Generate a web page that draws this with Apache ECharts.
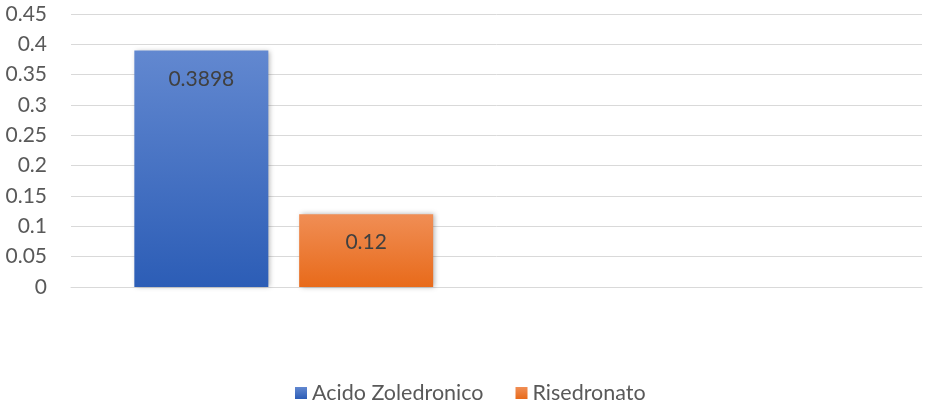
<!DOCTYPE html>
<html>
<head>
<meta charset="utf-8">
<style>
  html, body { margin: 0; padding: 0; background: #ffffff; }
  #chart { width: 930px; height: 407px; }
</style>
<script src="https://cdn.jsdelivr.net/npm/echarts@6/dist/echarts.min.js"></script>
</head>
<body>
<div id="chart"></div>
<script>
// Category slots on the x axis (the second one is left empty)
const categories = ['1', '2'];
// Series values
const acidoZoledronico = [0.3898, null];
const risedronato = [0.12, null];
// Y axis ticks
const yTicks = [0, 0.05, 0.1, 0.15, 0.2, 0.25, 0.3, 0.35, 0.4, 0.45];

const FONT = 'Lato, "Open Sans", sans-serif';

function grad(top, bottom) {
  return new echarts.graphic.LinearGradient(0, 0, 0, 1, [
    { offset: 0, color: top },
    { offset: 1, color: bottom }
  ]);
}

function labelStyle() {
  return {
    show: true,
    position: 'insideTop',
    distance: 18,
    color: '#404040',
    fontFamily: FONT,
    fontSize: 21,
    formatter: p => String(p.value)
  };
}

const chart = echarts.init(document.getElementById('chart'));
chart.setOption({
  animation: false,
  backgroundColor: '#ffffff',
  grid: { left: 71, right: 8, top: 14, bottom: 120, containLabel: false },
  legend: {
    top: 377,
    left: 290,
    itemWidth: 12,
    itemHeight: 12,
    itemGap: 32,
    icon: 'rect',
    textStyle: { color: '#595959', fontFamily: FONT, fontSize: 21.5 },
    data: ['Acido Zoledronico', 'Risedronato']
  },
  xAxis: {
    type: 'category',
    data: categories,
    axisLine: { show: true, lineStyle: { color: '#d9d9d9', width: 1 } },
    axisTick: { show: false },
    axisLabel: { show: false },
    splitLine: { show: false }
  },
  yAxis: {
    type: 'value',
    min: yTicks[0],
    max: yTicks[yTicks.length - 1],
    interval: 0.05,
    axisLine: { show: false },
    axisTick: { show: false },
    axisLabel: {
      color: '#595959',
      fontFamily: FONT,
      fontSize: 21,
      margin: 24,
      formatter: v => String(parseFloat(v.toFixed(2)))
    },
    splitLine: { lineStyle: { color: '#d9d9d9', width: 1 } }
  },
  series: [
    {
      name: 'Acido Zoledronico',
      type: 'bar',
      data: acidoZoledronico,
      barWidth: 134,
      barGap: '23%',
      itemStyle: {
        color: grad('#6288d0', '#2c5db6'),
        shadowColor: 'rgba(0,0,0,0.3)',
        shadowBlur: 5,
        shadowOffsetX: 2,
        shadowOffsetY: 0
      },
      label: labelStyle()
    },
    {
      name: 'Risedronato',
      type: 'bar',
      data: risedronato,
      barWidth: 134,
      barGap: '23%',
      itemStyle: {
        color: grad('#f08e55', '#e86a1a'),
        shadowColor: 'rgba(0,0,0,0.3)',
        shadowBlur: 5,
        shadowOffsetX: 2,
        shadowOffsetY: 0
      },
      label: labelStyle()
    }
  ]
});
// Legend swatches use the plain series colour
chart.setOption({
  series: [
    { name: 'Acido Zoledronico', color: '#4472c4' },
    { name: 'Risedronato', color: '#ed7d31' }
  ]
});
</script>
</body>
</html>
